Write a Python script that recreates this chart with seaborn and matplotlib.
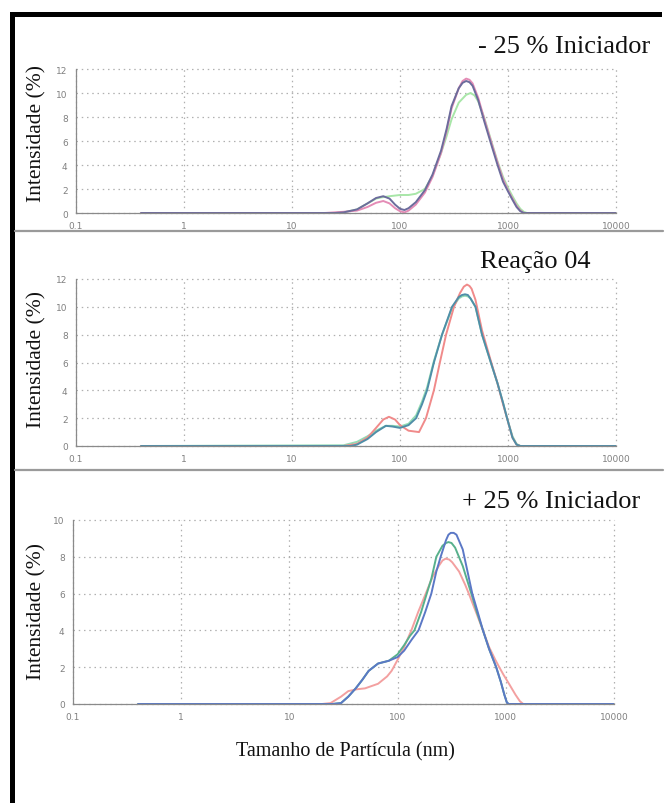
import numpy as np
import pandas as pd
import matplotlib
matplotlib.use("Agg")
import matplotlib.pyplot as plt
import seaborn as sns
from matplotlib.ticker import LogLocator, MultipleLocator, NullFormatter, FixedLocator, FixedFormatter
from matplotlib.lines import Line2D
from matplotlib.patches import Rectangle

sns.set_style("white")
plt.rcParams['font.family'] = ['DejaVu Sans']

# ---------------- data ----------------
panel_titles = ["- 25 % Iniciador", "Reação 04", "+ 25 % Iniciador"]
series_names = ["Medida 1", "Medida 2", "Medida 3"]
x_tick_values = [0.1, 1, 10, 100, 1000, 10000]
x_tick_labels = ["0.1", "1", "10", "100", "1000", "10000"]
y_limits = [12, 12, 10]
y_label = "Intensidade (%)"
x_label = "Tamanho de Partícula (nm)"

# Panel 1: - 25 % Iniciador
p1_red_x = [0.4, 20, 30, 40, 50, 60, 70, 80, 90, 100, 110, 120, 140, 170, 200, 240, 270, 300, 350, 380, 410, 440, 470, 530, 600, 700, 800, 900, 1000, 1100, 1200, 1300, 1400, 10000]
p1_red_y = [0, 0, 0.1, 0.2, 0.5, 0.85, 1.0, 0.8, 0.4, 0.15, 0.05, 0.2, 0.7, 1.7, 3.0, 5.0, 6.8, 8.7, 10.4, 11.0, 11.2, 11.1, 10.8, 9.6, 7.9, 5.9, 4.2, 2.8, 1.9, 1.2, 0.6, 0.2, 0, 0]
p1_green_x = [0.4, 25, 30, 40, 50, 60, 67, 80, 100, 120, 140, 170, 200, 240, 270, 300, 350, 410, 450, 490, 530, 600, 700, 800, 900, 1000, 1100, 1200, 1300, 1400, 1500, 10000]
p1_green_y = [0, 0, 0.05, 0.3, 0.8, 1.2, 1.3, 1.4, 1.5, 1.5, 1.6, 2.0, 3.1, 5.0, 6.4, 7.8, 9.2, 9.85, 10.0, 9.8, 9.3, 8.0, 6.0, 4.3, 3.0, 2.1, 1.4, 0.8, 0.35, 0.1, 0, 0]
p1_blue_x = [0.4, 25, 30, 40, 50, 60, 70, 80, 90, 100, 110, 120, 140, 170, 200, 240, 270, 300, 350, 380, 410, 440, 470, 530, 600, 700, 800, 900, 1000, 1100, 1200, 1300, 1400, 10000]
p1_blue_y = [0, 0, 0.05, 0.3, 0.8, 1.25, 1.4, 1.2, 0.7, 0.35, 0.25, 0.4, 0.9, 1.9, 3.2, 5.2, 7.0, 8.9, 10.4, 10.85, 11.0, 10.9, 10.6, 9.4, 7.7, 5.7, 4.0, 2.6, 1.8, 1.1, 0.5, 0.15, 0, 0]

# Panel 2: Reação 04
p2_red_x = [0.4, 30, 40, 50, 60, 70, 79, 90, 100, 120, 150, 174, 206, 234, 267, 316, 360, 390, 417, 440, 460, 500, 575, 700, 800, 900, 980, 1100, 1200, 1300, 10000]
p2_red_y = [0, 0, 0.15, 0.6, 1.3, 1.9, 2.1, 1.9, 1.5, 1.1, 1.0, 2.0, 4.0, 6.0, 8.0, 10.0, 11.0, 11.45, 11.6, 11.5, 11.3, 10.5, 8.3, 6.0, 4.5, 3.0, 2.0, 0.6, 0.1, 0, 0]
p2_green_x = [0.4, 30, 40, 50, 60, 74, 85, 100, 120, 141, 160, 178, 206, 245, 303, 350, 375, 400, 425, 450, 500, 575, 700, 800, 900, 980, 1100, 1200, 1300, 10000]
p2_green_y = [0, 0.05, 0.3, 0.7, 1.1, 1.45, 1.45, 1.4, 1.6, 2.2, 3.2, 4.2, 6.1, 8.0, 9.9, 10.6, 10.75, 10.8, 10.75, 10.6, 10.0, 8.0, 5.9, 4.5, 3.1, 2.0, 0.7, 0.15, 0, 0]
p2_blue_x = [0.4, 35, 40, 50, 60, 74, 85, 100, 120, 141, 160, 178, 206, 245, 303, 350, 375, 400, 425, 450, 500, 575, 700, 800, 900, 980, 1100, 1200, 1300, 10000]
p2_blue_y = [0, 0, 0.1, 0.5, 1.0, 1.45, 1.4, 1.3, 1.5, 2.0, 3.0, 4.0, 6.0, 8.0, 10.0, 10.7, 10.85, 10.9, 10.85, 10.6, 10.0, 8.0, 5.9, 4.5, 3.1, 2.0, 0.6, 0.1, 0, 0]

# Panel 3: + 25 % Iniciador
p3_red_x = [0.4, 20, 24, 30, 35, 42, 50, 66, 80, 88, 100, 115, 134, 155, 182, 210, 240, 260, 278, 300, 320, 370, 420, 455, 530, 615, 700, 800, 870, 950, 1070, 1230, 1350, 1450, 10000]
p3_red_y = [0, 0, 0.05, 0.4, 0.7, 0.8, 0.85, 1.1, 1.5, 1.8, 2.4, 3.1, 4.0, 5.0, 6.0, 6.9, 7.5, 7.8, 7.9, 7.85, 7.7, 7.2, 6.5, 6.0, 5.0, 4.0, 3.1, 2.4, 2.0, 1.6, 1.1, 0.5, 0.15, 0, 0]
p3_green_x = [0.4, 25, 30, 35, 41, 47, 54, 66, 83, 100, 115, 130, 143, 165, 186, 205, 228, 260, 280, 295, 315, 340, 400, 480, 540, 615, 700, 815, 900, 970, 1020, 1060, 10000]
p3_green_y = [0, 0, 0.05, 0.4, 0.85, 1.3, 1.8, 2.2, 2.35, 2.7, 3.2, 3.7, 4.0, 5.0, 6.0, 6.8, 8.0, 8.6, 8.75, 8.8, 8.75, 8.5, 7.5, 6.0, 5.0, 4.0, 3.0, 2.0, 1.2, 0.5, 0.1, 0, 0]
p3_blue_x = [0.4, 25, 30, 35, 41, 47, 54, 66, 83, 100, 115, 135, 156, 180, 205, 228, 250, 280, 295, 310, 330, 350, 400, 490, 550, 615, 700, 815, 900, 970, 1020, 1060, 10000]
p3_blue_y = [0, 0, 0.05, 0.4, 0.85, 1.3, 1.8, 2.2, 2.35, 2.55, 2.9, 3.5, 4.0, 5.0, 6.0, 7.2, 8.0, 8.9, 9.2, 9.3, 9.3, 9.2, 8.4, 6.0, 5.0, 4.0, 3.0, 2.0, 1.2, 0.5, 0.1, 0, 0]

panel_data = [
    [(p1_green_x, p1_green_y), (p1_red_x, p1_red_y), (p1_blue_x, p1_blue_y)],
    [(p2_green_x, p2_green_y), (p2_red_x, p2_red_y), (p2_blue_x, p2_blue_y)],
    [(p3_red_x, p3_red_y), (p3_green_x, p3_green_y), (p3_blue_x, p3_blue_y)],
]
panel_colors = [
    ["#a8e6a8", "#e48cb6", "#6c6c9c"],
    ["#92dcb4", "#f08a8a", "#4f8ea8"],
    ["#f3a0a0", "#58b08c", "#5b78c6"],
]

# ---------------- layout ----------------
W, H = 667, 804
fig = plt.figure(figsize=(W / 100, H / 100), dpi=100)
fig.patch.set_facecolor("white")

# axes boxes in pixels: (left, top, right, bottom)
boxes = [(76, 70, 616, 214), (76, 280, 616, 447), (73, 521, 614, 705)]
title_pos = [(650, 47), (590, 262), (640, 502)]
ylabel_pos = [(37, 134), (37, 360), (37, 612)]

serif = ["Liberation Serif", "DejaVu Serif"]

for i, (l, t, r, b) in enumerate(boxes):
    ax = fig.add_axes([l / W, 1 - b / H, (r - l) / W, (b - t) / H])
    rows = []
    for k, (xs, ys) in enumerate(panel_data[i]):
        for xv, yv in zip(xs, ys):
            rows.append({"size": xv, "intensity": yv, "series": series_names[k]})
    df = pd.DataFrame(rows)
    sns.lineplot(data=df, x="size", y="intensity", hue="series",
                 palette=dict(zip(series_names, panel_colors[i])),
                 estimator=None, sort=True, lw=1.4, ax=ax, legend=False)
    ax.set_xscale("log")
    ax.set_xlim(0.1, 10000)
    ax.set_ylim(0, y_limits[i])
    ax.xaxis.set_major_locator(FixedLocator(x_tick_values))
    ax.xaxis.set_major_formatter(FixedFormatter(x_tick_labels))
    ax.xaxis.set_minor_locator(LogLocator(base=10, subs=np.arange(2, 10)))
    ax.xaxis.set_minor_formatter(NullFormatter())
    ax.yaxis.set_major_locator(MultipleLocator(2))
    ax.yaxis.set_minor_locator(MultipleLocator(1))
    ax.set_xlabel("")
    ax.set_ylabel("")
    for s in ["top", "right"]:
        ax.spines[s].set_visible(False)
    for s in ["left", "bottom"]:
        ax.spines[s].set_color("#8a8a8a")
        ax.spines[s].set_linewidth(0.9)
    ax.tick_params(which="major", direction="inout", length=6, width=0.8,
                   color="#8a8a8a", labelsize=6.5, labelcolor="#808080", pad=3)
    ax.tick_params(which="minor", direction="inout", length=3.5, width=0.7,
                   color="#8a8a8a")
    ax.grid(which="major", linestyle=(0, (1.2, 3)), color="#b0b0b0", lw=0.9)
    ax.set_axisbelow(True)
    for gl in ax.get_xgridlines() + ax.get_ygridlines():
        gl.set_clip_on(False)

    tx, ty = title_pos[i]
    fig.text(tx / W, 1 - ty / H, panel_titles[i], ha="right", va="center",
             fontsize=19, family=serif, color="#111111")
    lx, ly = ylabel_pos[i]
    fig.text(lx / W, 1 - ly / H, y_label, ha="center", va="center",
             rotation=90, fontsize=15.5, family=serif, color="#111111")

fig.text(345 / W, 1 - 752 / H, x_label, ha="center", va="center",
         fontsize=14.5, family=serif, color="#111111")

# separators between panels
for yy in (232, 471):
    fig.add_artist(Line2D([15 / W, 663 / W], [1 - yy / H, 1 - yy / H],
                          color="#9a9a9a", lw=1.6))

# black frame (top and left)
fig.add_artist(Rectangle((10 / W, 1 - 18 / H), 652 / W, 5 / H,
                         color="black", lw=0, transform=fig.transFigure))
fig.add_artist(Rectangle((10 / W, 0), 5 / W, 1 - 13 / H,
                         color="black", lw=0, transform=fig.transFigure))

fig.savefig("out.png", dpi=100, facecolor="white")
